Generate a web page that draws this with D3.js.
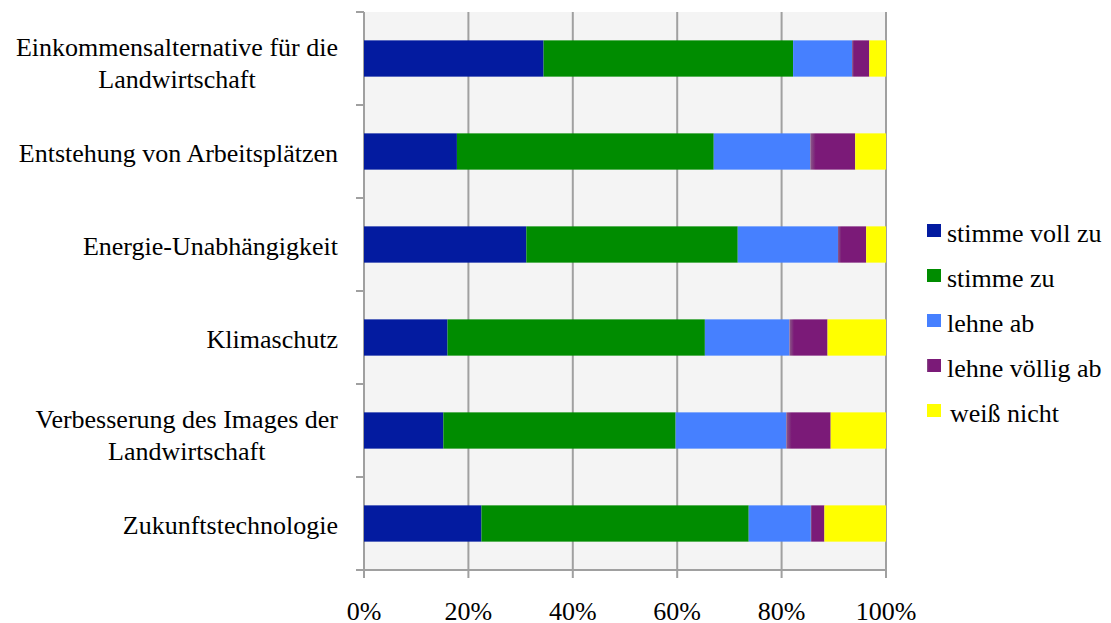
<!DOCTYPE html>
<html>
<meta charset="utf-8">
<script src="https://d3js.org/d3.v7.min.js"></script>
<style>
  body { margin: 0; background: #fff; }
  text { font-family: "Liberation Serif", "Times New Roman", serif; fill: #000; }
</style>
<body>
<div id="chart"></div>
<script>
// categories top to bottom
var categories = [
  "Einkommensalternative für die|Landwirtschaft",
  "Entstehung von Arbeitsplätzen",
  "Energie-Unabhängigkeit",
  "Klimaschutz",
  "Verbesserung des Images der|Landwirtschaft",
  "Zukunftstechnologie"
];
var seriesNames = ["stimme voll zu", "stimme zu", "lehne ab", "lehne völlig ab", "weiß nicht"];
var seriesColors = ["#031ba0", "#008c00", "#4680ff", "#7b1a78", "#ffff00"];

// percent shares per series, in category order
var stimmeVollZu  = [34.4, 17.8, 31.1, 16.0, 15.2, 22.5];
var stimmeZu      = [47.8, 49.2, 40.5, 49.3, 44.5, 51.2];
var lehneAb       = [11.3, 18.5, 19.2, 16.2, 21.2, 11.9];
var lehneVoelligAb = [3.3, 8.6, 5.4, 7.3, 8.5, 2.6];
var weissNicht    = [3.2, 5.9, 3.8, 11.2, 10.6, 11.8];
var xTicks = [0, 0.2, 0.4, 0.6, 0.8, 1];

var W = 1111, H = 623;
var pLeft = 364, pRight = 886, pTop = 12, pBottom = 570;
var fs = "26px";

var svg = d3.select("#chart").append("svg")
    .attr("width", W)
    .attr("height", H);

var x = d3.scaleLinear().domain([0, 1]).range([pLeft, pRight]);
var y = d3.scaleBand().domain(categories).range([pTop, pBottom]).paddingInner(0.61).paddingOuter(0.305);
var yb = d3.scaleBand().domain(categories).range([pTop, pBottom]);

// table of stacked rows
var table = categories.map(function(c, i) {
  var row = { cat: c };
  var vals = [stimmeVollZu[i], stimmeZu[i], lehneAb[i], lehneVoelligAb[i], weissNicht[i]];
  var tot = d3.sum(vals);
  seriesNames.forEach(function(s, j) { row[s] = vals[j] / tot; });
  return row;
});
var stack = d3.stack().keys(seriesNames)(table);

// soft edge on the purple segments, as in the original
var defs = svg.append("defs");
var grad = defs.append("linearGradient").attr("id", "purp");
grad.append("stop").attr("offset", "0%").attr("stop-color", "#8a5a88");
grad.append("stop").attr("offset", "12%").attr("stop-color", "#7b1a78");
grad.append("stop").attr("offset", "100%").attr("stop-color", "#7b1a78");
var fillFor = function(i) { return i === 3 ? "url(#purp)" : seriesColors[i]; };

// plot background
svg.append("rect")
    .attr("x", pLeft).attr("y", pTop)
    .attr("width", pRight - pLeft).attr("height", pBottom - pTop)
    .attr("fill", "#f4f4f4");

// vertical gridlines + x ticks
svg.selectAll(".grid").data(xTicks).enter().append("line")
    .attr("x1", function(d) { return x(d); })
    .attr("x2", function(d) { return x(d); })
    .attr("y1", pTop).attr("y2", pBottom + 8)
    .attr("stroke", "#a0a0a0").attr("stroke-width", 2);

// x axis line
svg.append("line")
    .attr("x1", pLeft - 8).attr("x2", pRight + 1)
    .attr("y1", pBottom).attr("y2", pBottom)
    .attr("stroke", "#a0a0a0").attr("stroke-width", 2);

// y ticks at band boundaries
var yTicks = categories.map(function(c) { return yb(c); }).concat([pBottom]);
svg.selectAll(".ytick").data(yTicks).enter().append("line")
    .attr("x1", pLeft - 8).attr("x2", pLeft)
    .attr("y1", function(d) { return d; }).attr("y2", function(d) { return d; })
    .attr("stroke", "#a0a0a0").attr("stroke-width", 2);

// bars
var groups = svg.selectAll(".series").data(stack).enter().append("g")
    .attr("fill", function(d, i) { return fillFor(i); });
groups.selectAll("rect").data(function(d) { return d; }).enter().append("rect")
    .attr("x", function(d) { return x(d[0]); })
    .attr("width", function(d) { return x(d[1]) - x(d[0]); })
    .attr("y", function(d) { return y(d.data.cat); })
    .attr("height", y.bandwidth());

// x tick labels
svg.selectAll(".xlab").data(xTicks).enter().append("text")
    .attr("x", function(d) { return x(d); })
    .attr("y", 620)
    .attr("text-anchor", "middle")
    .style("font-size", fs)
    .text(d3.format(".0%"));

// category labels
categories.forEach(function(c) {
  var lines = c.split("|");
  var cy = yb(c) + yb.bandwidth() / 2;
  var t = svg.append("text")
      .style("font-size", fs)
      .attr("text-anchor", lines.length > 1 ? "middle" : "end");
  if (lines.length === 1) {
    t.attr("x", 338).attr("y", cy + 10).text(c);
  } else {
    var tmp = svg.append("text").style("font-size", fs).text(lines[0]);
    var w = tmp.node().getComputedTextLength();
    tmp.remove();
    var cx = 338 - w / 2;
    lines.forEach(function(l, k) {
      t.append("tspan").attr("x", cx).attr("y", cy - 2.5 + k * 31.5).text(l);
    });
  }
});

// legend
var legend = svg.selectAll(".leg").data(seriesNames).enter().append("g")
    .attr("transform", function(d, i) { return "translate(927," + (233 + i * 45) + ")"; });
legend.append("rect")
    .attr("x", 0).attr("y", -9)
    .attr("width", 14).attr("height", 13)
    .attr("fill", function(d, i) { return fillFor(i); });
legend.append("text")
    .attr("x", function(d, i) { return i === 4 ? 23 : 20; })
    .attr("y", 9)
    .style("font-size", fs)
    .text(function(d) { return d; });
</script>
</body>
</html>
